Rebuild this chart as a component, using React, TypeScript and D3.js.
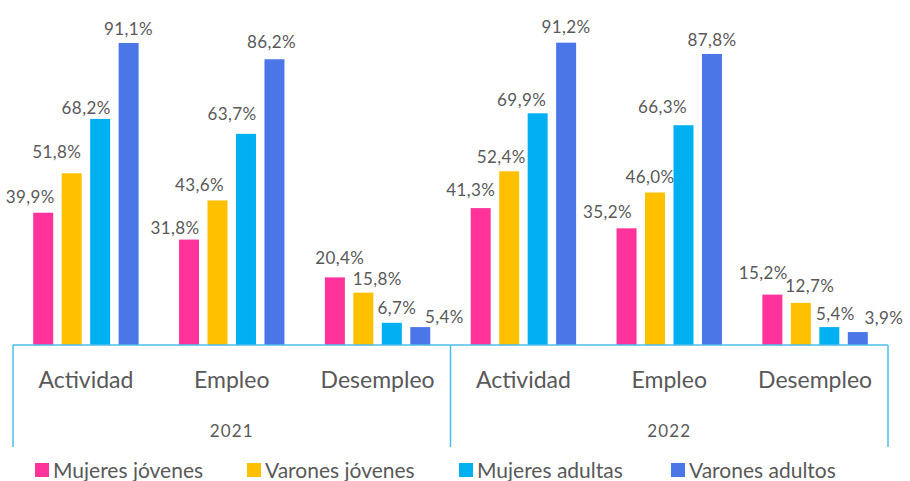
import React from "react";
import * as d3 from "d3";

const years = ["2021", "2022"];
const categories = ["Actividad", "Empleo", "Desempleo"];
const series = ["Mujeres jóvenes", "Varones jóvenes", "Mujeres adultas", "Varones adultos"];
const colors = ["#FF3399", "#FFC000", "#00B0F0", "#4A76E8"];

// values[year][category][series]
const values2021 = [
  [39.9, 51.8, 68.2, 91.1],
  [31.8, 43.6, 63.7, 86.2],
  [20.4, 15.8, 6.7, 5.4],
];
const values2022 = [
  [41.3, 52.4, 69.9, 91.2],
  [35.2, 46.0, 66.3, 87.8],
  [15.2, 12.7, 5.4, 3.9],
];
const valuesByYear = [values2021, values2022];

// label nudges (layout only): [dx, dy above bar top]
const labelNudge2021 = [
  [[-13, 16], [-15, 21], [-14, 11], [0, 14]],
  [[-14, 12], [-18, 15], [-14, 20], [-3, 17]],
  [[5, 19], [14, 14], [5, 15], [24, 10]],
];
const labelNudge2022 = [
  [[-10, 18], [-8, 14], [-16, 13], [0, 16]],
  [[-19, 16], [-5, 16], [-21, 18], [0, 14]],
  [[-9, 22], [9, 17], [6, 13], [26, 14]],
];
const labelNudges = [labelNudge2021, labelNudge2022];

const W = 910;
const H = 481;
const left = 13;
const right = 888;
const baseY = 345;
const axisBottom = 447;
const axisColor = "#4DBDEB";
const textColor = "#595959";
const font = "Lato, 'Open Sans', sans-serif";

const fmt = (v: number) => v.toFixed(1).replace(".", ",") + "%";

export default function App() {
  const xYear = d3.scaleBand<string>().domain(years).range([left, right]);
  const xCat = d3.scaleBand<string>().domain(categories).range([0, xYear.bandwidth()]);
  const xSer = d3
    .scaleBand<string>()
    .domain(series)
    .range([0, xCat.bandwidth()])
    .paddingInner(0.298)
    .paddingOuter(0.71);
  const y = d3.scaleLinear().domain([0, 100]).range([baseY, 13.5]);

  return (
    <svg
      width={W}
      height={H}
      style={{ position: "absolute", left: 0, top: 0, background: "#fff" }}
    >
      {years.map((yr, yi) =>
        categories.map((cat, ci) =>
          series.map((s, si) => {
            const v = valuesByYear[yi][ci][si];
            const x0 = (xYear(yr) ?? 0) + (xCat(cat) ?? 0) + (xSer(s) ?? 0);
            const bw = xSer.bandwidth();
            const top = y(v);
            const [dx, dy] = labelNudges[yi][ci][si];
            return (
              <g key={`${yr}-${cat}-${s}`}>
                <rect x={x0} y={top} width={bw} height={baseY - top} fill={colors[si]} />
                <text
                  x={x0 + bw / 2 + dx}
                  y={top - dy + 6}
                  textAnchor="middle"
                  fontFamily={font}
                  fontSize={17}
                  letterSpacing={0.4}
                  fill={textColor}
                >
                  {fmt(v)}
                </text>
              </g>
            );
          })
        )
      )}
      {/* axis lines */}
      <line x1={left} x2={right} y1={baseY} y2={baseY} stroke={axisColor} strokeWidth={1.5} />
      {[left, (xYear(years[1]) ?? 0), right].map((x, i) => (
        <line key={i} x1={x} x2={x} y1={baseY} y2={axisBottom} stroke={axisColor} strokeWidth={1.5} />
      ))}
      {/* category labels */}
      {years.map((yr) =>
        categories.map((cat) => (
          <text
            key={`${yr}-${cat}-lab`}
            x={(xYear(yr) ?? 0) + (xCat(cat) ?? 0) + xCat.bandwidth() / 2}
            y={388}
            textAnchor="middle"
            fontFamily={font}
            fontSize={23}
            fill={textColor}
          >
            {cat}
          </text>
        ))
      )}
      {years.map((yr) => (
        <text
          key={`${yr}-lab`}
          x={(xYear(yr) ?? 0) + xYear.bandwidth() / 2}
          y={437}
          textAnchor="middle"
          fontFamily={font}
          fontSize={17}
          letterSpacing={1.2}
          fill={textColor}
        >
          {yr}
        </text>
      ))}
      {/* legend */}
      {series.map((s, i) => {
        const lx = 35 + i * 212;
        return (
          <g key={`leg-${s}`}>
            <rect x={lx} y={463} width={14} height={14} fill={colors[i]} />
            <text x={lx + 18} y={478} fontFamily={font} fontSize={21} fill={textColor}>
              {s}
            </text>
          </g>
        );
      })}
    </svg>
  );
}
